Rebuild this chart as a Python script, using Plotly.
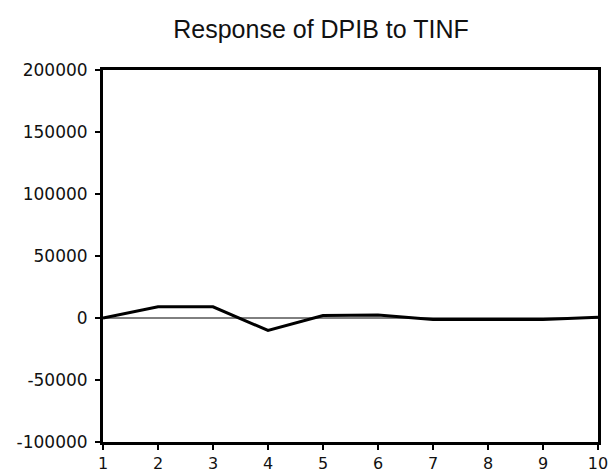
import plotly.graph_objects as go

periods = [1, 2, 3, 4, 5, 6, 7, 8, 9, 10]
response = [0, 9000, 9000, -10000, 2000, 2500, -1200, -1500, -1300, 600]
zero_line = [0] * len(periods)
y_ticks = [-100000, -50000, 0, 50000, 100000, 150000, 200000]
x_ticks = periods

fig = go.Figure()
fig.add_trace(go.Scatter(x=periods, y=zero_line, mode="lines",
                         line=dict(color="black", width=1), showlegend=False,
                         hoverinfo="skip"))
fig.add_trace(go.Scatter(x=periods, y=response, mode="lines",
                         line=dict(color="black", width=3), showlegend=False))

y_font = dict(family="DejaVu Sans, Arial", size=17, color="#111111")
x_font = dict(family="DejaVu Sans, Arial", size=16, color="#111111")
fig.update_layout(
    width=608, height=476,
    margin=dict(l=103, r=10, t=70, b=34),
    paper_bgcolor="white", plot_bgcolor="white",
    title=dict(text="Response of DPIB to TINF", x=321 / 608, xanchor="center",
               y=1 - 29 / 476, yanchor="middle",
               font=dict(family="Liberation Sans, Arial", size=25, color="#111111")),
    xaxis=dict(range=[1, 10], tickmode="array", tickvals=x_ticks,
               ticktext=[str(v) for v in x_ticks], automargin=False,
               ticklabeloverflow="allow", ticklabelstandoff=0,
               showgrid=False, zeroline=False, showline=True, linecolor="black",
               linewidth=3, mirror=True, ticks="outside", ticklen=5, tickwidth=2,
               tickcolor="black", tickfont=x_font),
    yaxis=dict(range=[-100000, 200000], tickmode="array", tickvals=y_ticks,
               ticktext=[str(v) for v in y_ticks], automargin=False,
               ticklabeloverflow="allow", ticklabelstandoff=4,
               showgrid=False, zeroline=False, showline=True, linecolor="black",
               linewidth=3, mirror=True, ticks="outside", ticklen=5, tickwidth=2,
               tickcolor="black", tickfont=y_font),
)

fig.write_html("out.html")
